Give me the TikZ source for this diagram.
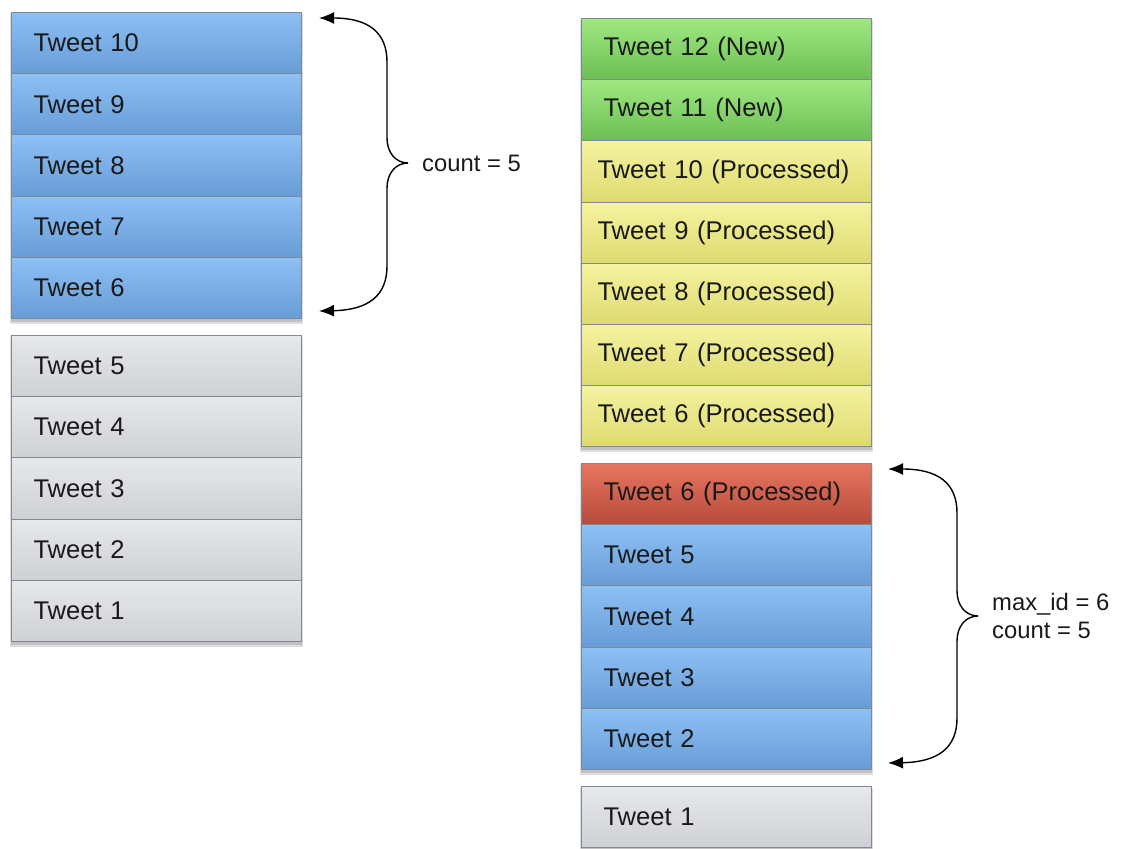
\documentclass[tikz,border=0pt]{standalone}
\usepackage{fontspec}
\setmainfont{Liberation Sans}
\usetikzlibrary{arrows.meta,backgrounds,calc}
\definecolor{blueT}{RGB}{141,192,244}
\definecolor{blueB}{RGB}{104,156,214}
\definecolor{grayT}{RGB}{230,232,236}
\definecolor{grayB}{RGB}{206,208,212}
\definecolor{greenT}{RGB}{160,232,130}
\definecolor{greenB}{RGB}{108,190,84}
\definecolor{yelT}{RGB}{245,243,160}
\definecolor{yelB}{RGB}{222,218,112}
\definecolor{redT}{RGB}{230,118,96}
\definecolor{redB}{RGB}{184,74,60}
\definecolor{cellborder}{RGB}{128,136,146}
\definecolor{txt}{RGB}{25,25,25}
\tikzset{
  cell/.style={draw=cellborder, line width=1pt, minimum height=61.2pt,
    text width=246pt, inner xsep=22pt, inner ysep=0pt, align=left,
    font=\fontsize{25.6}{30}\selectfont, text=txt, anchor=north west},
  wide/.style={text width=258pt, inner xsep=16pt},
  bluec/.style={cell, top color=blueT, bottom color=blueB},
  grayc/.style={cell, top color=grayT, bottom color=grayB},
  greenc/.style={cell, top color=greenT, bottom color=greenB},
  yelc/.style={cell, wide, top color=yelT, bottom color=yelB},
  redc/.style={cell, top color=redT, bottom color=redB},
  brace/.style={line width=1.4pt, {Latex[length=15pt,width=12pt]}-},
  lbl/.style={font=\fontsize{23.8}{28}\selectfont, text=txt, anchor=west, align=left, inner sep=0pt},
  shadowc/.style={fill=black, opacity=0.13}
}
\begin{document}
\begin{tikzpicture}[x=1pt,y=-1pt]
\useasboundingbox (0,0) rectangle (1123,848);
% left column
\node[bluec] (L10) at (11,12) {Tweet 10};
\node[bluec] (L9) at (11,73.2) {Tweet 9};
\node[bluec] (L8) at (11,134.4) {Tweet 8};
\node[bluec] (L7) at (11,195.6) {Tweet 7};
\node[bluec] (L6) at (11,256.8) {Tweet 6};
\node[grayc] (L5) at (11,335) {Tweet 5};
\node[grayc] (L4) at (11,396.2) {Tweet 4};
\node[grayc] (L3) at (11,457.4) {Tweet 3};
\node[grayc] (L2) at (11,518.6) {Tweet 2};
\node[grayc] (L1) at (11,579.8) {Tweet 1};
% right column
\node[greenc] (R12) at (581,18) {Tweet 12 (New)};
\node[greenc] (R11) at (581,79.2) {Tweet 11 (New)};
\node[yelc] (R10) at (581,140.4) {Tweet 10 (Processed)};
\node[yelc] (R9) at (581,201.6) {Tweet 9 (Processed)};
\node[yelc] (R8) at (581,262.8) {Tweet 8 (Processed)};
\node[yelc] (R7) at (581,324) {Tweet 7 (Processed)};
\node[yelc] (R6) at (581,385.2) {Tweet 6 (Processed)};
\node[redc] (S6) at (581,463) {Tweet 6 (Processed)};
\node[bluec] (S5) at (581,524.2) {Tweet 5};
\node[bluec] (S4) at (581,585.4) {Tweet 4};
\node[bluec] (S3) at (581,646.6) {Tweet 3};
\node[bluec] (S2) at (581,707.8) {Tweet 2};
\node[grayc] (S1) at (581,786) {Tweet 1};
% shadows
\begin{scope}[on background layer]
  \foreach \a/\b in {L10/L6, L5/L1, R12/R6, S6/S2, S1/S1}{
    \fill[shadowc] ($(\a.north west)+(-1,2)$) rectangle ($(\b.south east)+(1,5)$);
    \fill[shadowc] ($(\a.north west)+(0,2)$) rectangle ($(\b.south east)+(0,3)$);
  }
\end{scope}
% left brace
\coordinate (ta1) at ($(L10.north east)+(17,6)$);
\coordinate (tb1) at ($(L6.south east)+(17,-8)$);
\coordinate (bp1) at (408,163);
\node[lbl] (c1) at (422,163) {count = 5};
\draw[brace] (ta1) .. controls (368,18) and (387,32) .. (387,62) -- (387,138)
  .. controls (387,153) and (396,163) .. (bp1);
\draw[brace] (tb1) .. controls (368,310) and (387,296) .. (387,266) -- (387,188)
  .. controls (387,173) and (396,163) .. (bp1);
% right brace
\coordinate (ta2) at ($(S6.north east)+(16,6)$);
\coordinate (tb2) at ($(S2.south east)+(16,-7)$);
\coordinate (bp2) at (978,616);
\node[lbl] (c2) at (992,616) {max\_id = 6\\count = 5};
\draw[brace] (ta2) .. controls (938,469) and (957,483) .. (957,513) -- (957,591)
  .. controls (957,606) and (966,616) .. (bp2);
\draw[brace] (tb2) .. controls (938,762) and (957,748) .. (957,718) -- (957,641)
  .. controls (957,626) and (966,616) .. (bp2);
\end{tikzpicture}
\end{document}
